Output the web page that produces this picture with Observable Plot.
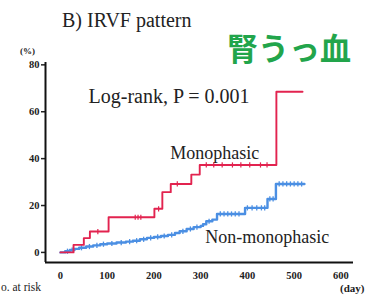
<!DOCTYPE html>
<html>
<head>
<meta charset="utf-8">
<script src="https://cdn.jsdelivr.net/npm/d3@7"></script>
<script src="https://cdn.jsdelivr.net/npm/@observablehq/plot@0.6"></script>
<style>
  html, body { margin: 0; padding: 0; background: #fff; }
  #wrap { position: relative; width: 380px; height: 298px; overflow: hidden; }
  .ov { position: absolute; white-space: nowrap; line-height: 1; }
  .serif { font-family: "Liberation Serif", "Times New Roman", serif; color: #222; }
  svg text { font-family: "Liberation Serif", "Times New Roman", serif; }
</style>
</head>
<body>
<div id="wrap">
  <div class="ov serif" style="left:62px; top:10px; font-size:20px;">B) IRVF pattern</div>
  <div class="ov" style="left:227px; top:31px; font-size:31px; font-weight:bold; font-family:'Noto Sans CJK JP', sans-serif; color:#22a54b;">腎うっ血</div>
  <div class="ov serif" style="left:20px; top:47px; font-size:9px; font-weight:bold;">(%)</div>
  <div class="ov serif" style="left:340px; top:283px; font-size:11px; font-weight:bold;">(day)</div>
  <div class="ov serif" style="left:1px; top:282px; font-size:11.5px;">o. at risk</div>
</div>
<script>
// Monophasic (red) step curve
const redDays = [0, 28, 50, 63, 103, 201, 218, 236, 280, 298, 462, 518];
const redPct  = [0, 3.2, 6.1, 8.9, 15.0, 18.6, 25.7, 29.2, 33.2, 37.3, 68.5, 68.5];
const redCensorDays = [80, 160, 166, 172, 210, 250, 312, 328, 346, 368, 386, 405, 428, 442];

// Non-monophasic (blue) step curve
const blueDays = [0, 10, 20, 30, 40, 55, 70, 85, 100, 120, 140, 155, 170, 185, 200, 215, 230, 245, 255, 270, 285, 300, 305, 312, 325, 335, 395, 443, 461, 522];
const bluePct  = [0, 0.5, 1.0, 1.5, 2.0, 2.5, 3.0, 3.5, 3.8, 4.2, 4.6, 5.0, 5.6, 6.2, 6.6, 7.0, 7.5, 8.3, 9.0, 10.0, 10.8, 11.3, 12.0, 13.3, 14.0, 16.4, 19.0, 22.8, 29.2, 29.2];
const blueCensorDays = [15, 25, 45, 62, 78, 92, 110, 130, 148, 163, 178, 193, 208, 222, 238, 262, 278, 292, 318, 342, 350, 358, 366, 374, 382, 400, 410, 420, 430, 437, 448, 455, 468, 476, 484, 492, 500, 508, 516];

const xTicks = [0, 100, 200, 300, 400, 500, 600];
const yTicks = [0, 20, 40, 60, 80];
const xDomain = [-32, 627];
const yDomain = [-4.3, 81];

const annotations = [
  {label: "Log-rank, P = 0.001", day: 60, pct: 66.5, size: 20},
  {label: "Monophasic", day: 235, pct: 42.3, size: 18},
  {label: "Non-monophasic", day: 310, pct: 6.3, size: 18}
];

const red = "#e2234f";
const blue = "#4b8fe3";
const serif = "'Liberation Serif', 'Times New Roman', serif";

const redData = redDays.map((d, i) => ({day: d, pct: redPct[i]}));
const blueData = blueDays.map((d, i) => ({day: d, pct: bluePct[i]}));
function stepAt(days, pcts, t) {
  const i = d3.bisectRight(days, t) - 1;
  return pcts[Math.max(0, i)];
}
const redCensor = redCensorDays.map(d => ({day: d, pct: stepAt(redDays, redPct, d)}));
const blueCensor = blueCensorDays.map(d => ({day: d, pct: stepAt(blueDays, bluePct, d)}));

const tickSym = {draw(ctx, size) { ctx.moveTo(0, -2.6); ctx.lineTo(0, 2.6); }};

const chart = Plot.plot({
  width: 380,
  height: 298,
  marginLeft: 45,
  marginRight: 27,
  marginTop: 62,
  marginBottom: 36,
  style: {fontFamily: serif, background: "transparent", color: "#222"},
  x: {domain: xDomain},
  y: {domain: yDomain},
  marks: [
    Plot.axisX({ticks: xTicks, tickSize: 0, tickPadding: 9, label: null, fontSize: 10.5, fontWeight: "bold", fontFamily: serif}),
    Plot.axisY({ticks: yTicks, tickSize: 4, tickPadding: 2, label: null, fontSize: 10.5, fontWeight: "bold", fontFamily: serif, strokeWidth: 1.5}),
    Plot.ruleX([xDomain[0]], {stroke: "#111", strokeWidth: 2}),
    Plot.ruleY([yDomain[0]], {stroke: "#111", strokeWidth: 2.2}),
    Plot.line(blueData, {x: "day", y: "pct", curve: "step-after", stroke: blue, strokeWidth: 2.4}),
    Plot.dot(blueCensor, {x: "day", y: "pct", symbol: tickSym, stroke: blue, strokeWidth: 1.3, r: 2}),
    Plot.line(redData, {x: "day", y: "pct", curve: "step-after", stroke: red, strokeWidth: 1.9}),
    Plot.dot(redCensor, {x: "day", y: "pct", symbol: tickSym, stroke: red, strokeWidth: 1.2, r: 2}),
    Plot.text(annotations, {x: "day", y: "pct", text: "label", fontSize: d => d.size, fontFamily: serif, textAnchor: "start", lineAnchor: "middle", fill: "#222"})
  ]
});
document.getElementById("wrap").prepend(chart);
chart.style.position = "absolute";
chart.style.left = "0";
chart.style.top = "0";
</script>
</body>
</html>
